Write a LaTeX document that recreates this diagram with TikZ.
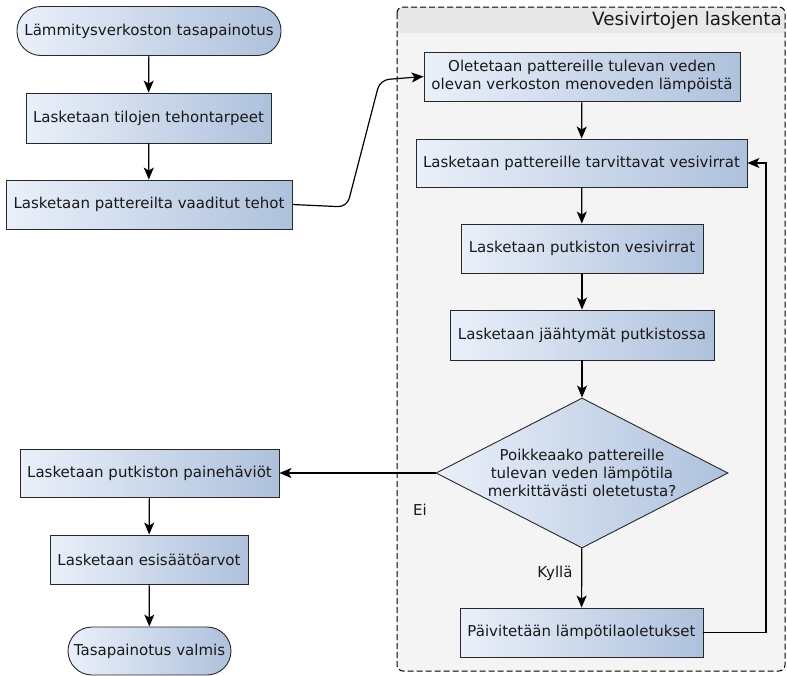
\documentclass[tikz,border=0pt]{standalone}
\usepackage{fontspec}
\setmainfont{DejaVu Sans}
\usetikzlibrary{shapes.geometric,arrows.meta}
\definecolor{gradL}{RGB}{234,240,250}
\definecolor{gradR}{RGB}{174,193,220}
\definecolor{bordc}{RGB}{40,40,40}
\definecolor{txtc}{RGB}{25,25,25}
\definecolor{panelbg}{RGB}{244,244,244}
\definecolor{panelhd}{RGB}{232,232,232}
\tikzset{
  base/.style={draw=bordc, line width=0.9pt, left color=gradL, right color=gradR, text=txtc,
    font=\fontsize{15}{17.8}\selectfont, align=center, inner sep=0pt},
  procbox/.style={base, rectangle},
  termbox/.style={base, rectangle, rounded corners=24pt},
  decbox/.style={base, diamond, aspect=2},
  conn/.style={draw=black, line width=1.2pt, -{Stealth[length=12pt,width=10pt,inset=3pt]}},
  lbl/.style={text=txtc, font=\fontsize{15}{17.8}\selectfont, inner sep=0pt},
}
\begin{document}
\begin{tikzpicture}[x=1pt,y=-1pt]
\useasboundingbox (0,0) rectangle (787,675);
% panel
\path[fill=panelbg, rounded corners=6pt] (397,7) rectangle (785,671);
\begin{scope}
  \clip[rounded corners=6pt] (397,7) rectangle (785,671);
  \fill[panelhd] (397,7) rectangle (785,33);
\end{scope}
\draw[black, line width=1pt, dash pattern=on 6pt off 3pt, rounded corners=6pt] (397,7) rectangle (785,671);
\node[anchor=east, text=txtc, font=\fontsize{18.3}{21}\selectfont, inner sep=0pt] (title) at (782,20) {Vesivirtojen laskenta};

% left column
\node[termbox, minimum width=264pt, minimum height=49pt] (start) at (149,31) {Lämmitysverkoston tasapainotus};
\node[procbox, minimum width=245pt, minimum height=50pt] (b2) at (148.5,118) {Lasketaan tilojen tehontarpeet};
\node[procbox, minimum width=286pt, minimum height=49pt] (b3) at (149,204.5) {Lasketaan pattereilta vaaditut tehot};
\node[procbox, minimum width=259pt, minimum height=48pt] (b9) at (149.5,473) {Lasketaan putkiston painehäviöt};
\node[procbox, minimum width=198pt, minimum height=49pt] (b10) at (149,559.5) {Lasketaan esisäätöarvot};
\node[termbox, minimum width=163pt, minimum height=48pt] (stop) at (149.5,651) {Tasapainotus valmis};

% right column
\node[procbox, minimum width=316pt, minimum height=49pt] (b4) at (582,76.5) {Oletetaan pattereille tulevan veden\\olevan verkoston menoveden lämpöistä};
\node[procbox, minimum width=331pt, minimum height=48pt] (b5) at (581.5,163) {Lasketaan pattereille tarvittavat vesivirrat};
\node[procbox, minimum width=242pt, minimum height=49pt] (b6) at (582,248.5) {Lasketaan putkiston vesivirrat};
\node[procbox, minimum width=264pt, minimum height=50pt] (b7) at (582,335) {Lasketaan jäähtymät putkistossa};
\node[decbox, minimum width=292pt, minimum height=150pt] (d1) at (582,473) {Poikkeaako pattereille\\tulevan veden lämpötila\\merkittävästi oletetusta?};
\node[procbox, minimum width=243pt, minimum height=49pt] (b8) at (581.5,632.5) {Päivitetään lämpötilaoletukset};

% connectors
\draw[conn] (start) -- (b2);
\draw[conn] (b2) -- (b3);
\draw[conn, rounded corners=9pt] (b3.east) -- (347,207) -- (380,80) -- (b4.west);
\draw[conn] (b4) -- (b5);
\draw[conn] (b5) -- (b6);
\draw[conn] (b6) -- (b7);
\draw[conn] (b7) -- (d1);
\draw[conn] (d1) -- (b8);
\draw[conn] (b8.east) -- (766,632.5) -- (766,163) -- (b5.east);
\draw[conn] (d1.west) -- (b9.east);
\draw[conn] (b9) -- (b10);
\draw[conn] (b10) -- (stop);

\node[lbl] (ei) at (420,510) {Ei};
\node[lbl] (kylla) at (555,573) {Kyllä};
\end{tikzpicture}
\end{document}
